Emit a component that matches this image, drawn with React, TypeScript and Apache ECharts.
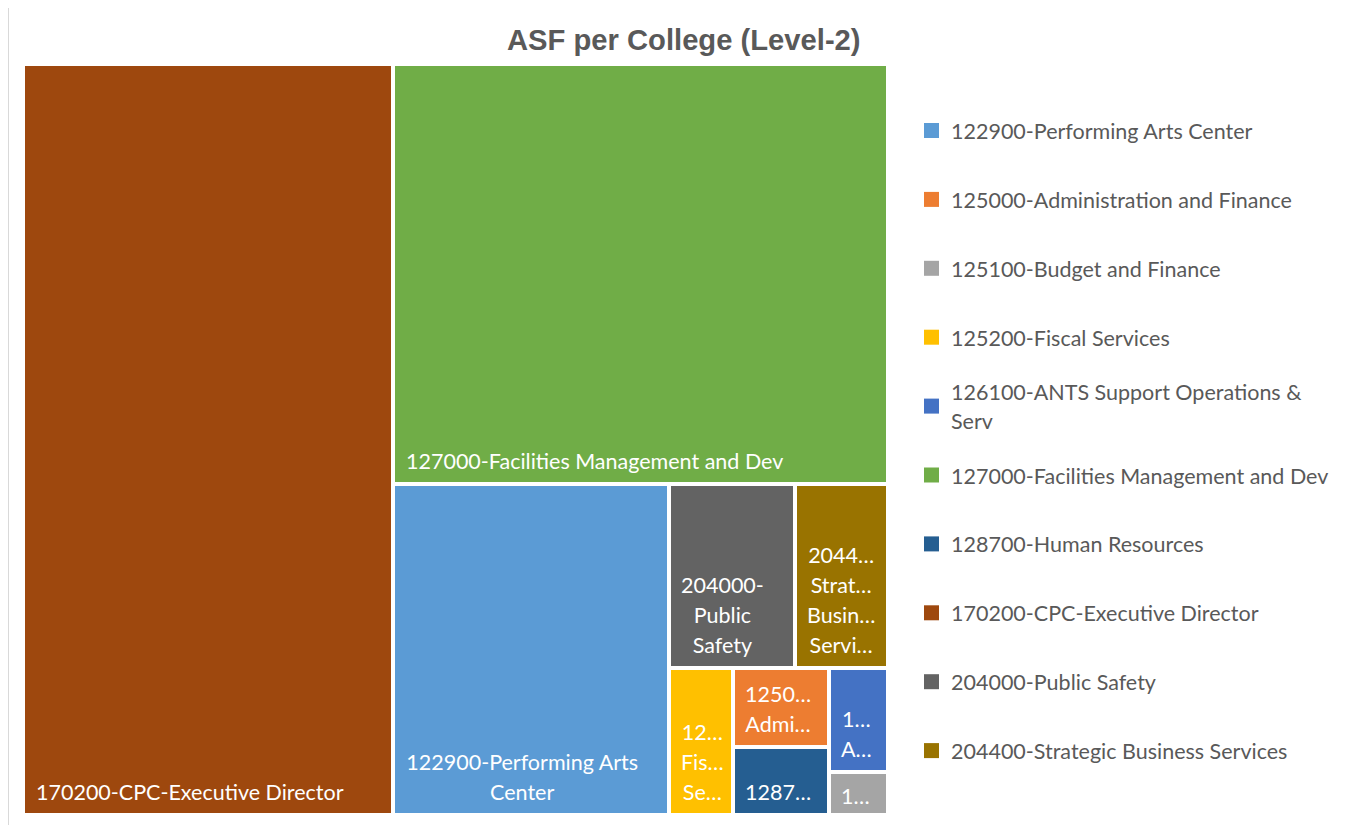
import React, { useEffect, useRef } from 'react';
import * as echarts from 'echarts';

const TITLE = 'ASF per College (Level-2)';

// Legend order (as in the reference)
const categories = [
  '122900-Performing Arts Center',
  '125000-Administration and Finance',
  '125100-Budget and Finance',
  '125200-Fiscal Services',
  '126100-ANTS Support Operations & Serv',
  '127000-Facilities Management and Dev',
  '128700-Human Resources',
  '170200-CPC-Executive Director',
  '204000-Public Safety',
  '204400-Strategic Business Services',
];

const legendText = [
  '122900-Performing Arts Center',
  '125000-Administration and Finance',
  '125100-Budget and Finance',
  '125200-Fiscal Services',
  '126100-ANTS Support Operations &\nServ',
  '127000-Facilities Management and Dev',
  '128700-Human Resources',
  '170200-CPC-Executive Director',
  '204000-Public Safety',
  '204400-Strategic Business Services',
];

// ASF values
const asfValues = [91356, 7584, 2537, 9408, 6136, 207900, 6528, 277870, 23184, 17112];

const colors = [
  '#5B9BD5', '#ED7D31', '#A5A5A5', '#FFC000', '#4472C4',
  '#70AD47', '#255E91', '#9E480E', '#636363', '#997300',
];

// Cell labels as they are displayed (wrapped / truncated) in the reference
const cellText = [
  '122900-Performing Arts\nCenter',
  '1250…\nAdmi…',
  '1…',
  '12…\nFis…\nSe…',
  '1…\nA…',
  '127000-Facilities Management and Dev',
  '1287…',
  '170200-CPC-Executive Director',
  '204000-\nPublic\nSafety',
  '2044…\nStrat…\nBusin…\nServi…',
];

// Nesting of the cells (indices into categories), following the reference's slicing
const layoutGroups: any = [7, [5, [0, [[8, 9], [3, [[1, 6], [4, 2]]]]]]];

const FONT = 'Lato';
const LABEL_SIZE = 21.5;
const LINE_H = 30;
const TEXT_GRAY = '#595959';

function blockWidth(text: string, ctx: CanvasRenderingContext2D) {
  return Math.max(...text.split('\n').map((l) => ctx.measureText(l).width));
}

function buildNode(node: any, ctx: CanvasRenderingContext2D, path: string): any {
  if (typeof node === 'number') {
    const i = node;
    const w = blockWidth(cellText[i], ctx);
    const big = i === 0 || i === 5 || i === 7;
    const padX = big ? 11 : 10;
    const padB = i === 2 ? 2 : 6;
    return {
      name: categories[i],
      value: asfValues[i],
      display: cellText[i],
      itemStyle: { color: colors[i] },
      label: {
        position: [padX + w / 2, '100%'],
        align: 'center',
        verticalAlign: 'bottom',
        padding: [0, 0, padB, 0],
      },
    };
  }
  return {
    name: 'group' + path,
    children: node.map((n: any, k: number) => buildNode(n, ctx, path + '-' + k)),
  };
}

export default function App() {
  const ref = useRef<HTMLDivElement>(null);

  useEffect(() => {
    if (!ref.current) return;
    const chart = echarts.init(ref.current, null, { renderer: 'svg' });

    const canvas = document.createElement('canvas');
    const ctx = canvas.getContext('2d') as CanvasRenderingContext2D;
    ctx.font = `${LABEL_SIZE}px ${FONT}`;

    const data = (layoutGroups as any[]).map((n, k) => buildNode(n, ctx, String(k)));

    const LEGEND_X = 924;
    const LEGEND_TOP = 131;
    const LEGEND_STEP = 68.9;
    const legendGraphics: any[] = [];
    categories.forEach((c, i) => {
      const y = LEGEND_TOP + i * LEGEND_STEP;
      legendGraphics.push({
        type: 'rect',
        shape: { x: LEGEND_X, y: y - 8, width: 15, height: 15 },
        style: { fill: colors[i] },
      });
      legendGraphics.push({
        type: 'text',
        x: LEGEND_X + 27,
        y: y,
        style: {
          text: legendText[i],
          fill: TEXT_GRAY,
          fontFamily: FONT,
          fontSize: LABEL_SIZE,
          lineHeight: 29,
          verticalAlign: 'middle',
          align: 'left',
        },
      });
    });

    chart.setOption({
      animation: false,
      backgroundColor: '#ffffff',
      title: {
        text: TITLE,
        left: 507,
        top: 22,
        padding: 0,
        textStyle: {
          fontFamily: '"Liberation Sans", Arial, sans-serif',
          fontWeight: 'bold',
          fontSize: 29.2,
          lineHeight: 35,
          color: TEXT_GRAY,
        },
      },
      tooltip: { show: false },
      graphic: [
        {
          type: 'rect',
          shape: { x: 8.5, y: 6.5, width: 1353, height: 840 },
          style: { fill: 'none', stroke: '#d9d9d9', lineWidth: 1 },
          silent: true,
        },
        ...legendGraphics,
      ],
      series: [
        {
          type: 'treemap',
          left: 25,
          top: 66,
          width: 861,
          height: 747,
          roam: false,
          nodeClick: false,
          sort: false,
          squareRatio: 1,
          visibleMin: 0,
          breadcrumb: { show: false },
          itemStyle: { borderWidth: 0, gapWidth: 4, borderColor: '#ffffff' },
          upperLabel: { show: false },
          label: {
            show: true,
            color: '#ffffff',
            fontFamily: FONT,
            fontSize: LABEL_SIZE,
            lineHeight: LINE_H,
            overflow: 'none',
            formatter: (p: any) => (p.data && p.data.display) || '',
          },
          emphasis: { disabled: true },
          data,
        },
      ],
    });

    return () => chart.dispose();
  }, []);

  return (
    <div
      ref={ref}
      style={{ position: 'relative', left: -8, top: -8, width: 1364, height: 825, background: '#fff' }}
    />
  );
}
